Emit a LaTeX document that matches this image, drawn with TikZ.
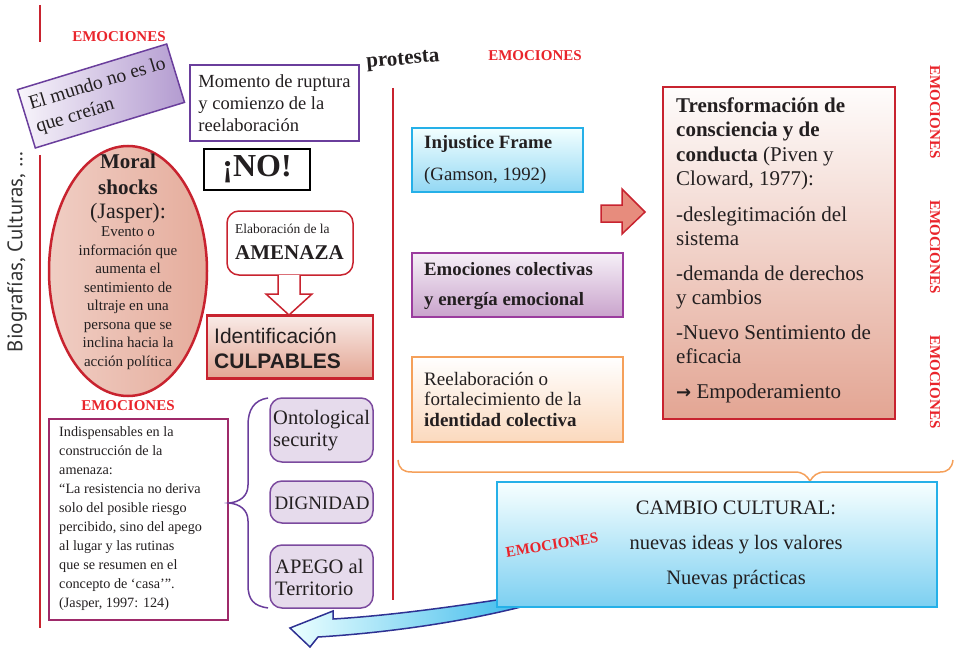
\documentclass[tikz,border=0pt]{standalone}
\usepackage{fontspec}
\setmainfont{Liberation Serif}
\newfontfamily\ptsans{PT Sans}
\newfontfamily\lsans{Liberation Sans}
\newfontfamily\djv{DejaVu Sans}
\usetikzlibrary{shapes.geometric}
\newcommand\myfs[2]{\fontsize{#1}{#2}\selectfont}
\definecolor{redl}{HTML}{C8232F}
\definecolor{emored}{HTML}{E9242B}
\definecolor{purp}{HTML}{6A3E9C}
\definecolor{magp}{HTML}{9E2A6A}
\definecolor{lila}{HTML}{E6DBEC}
\definecolor{lilab}{HTML}{7B4A9E}
\definecolor{mundoR}{HTML}{B39BD0}
\definecolor{mundoL}{HTML}{F8F5FB}
\definecolor{ecolb}{HTML}{9B3C9E}
\definecolor{ecolT}{HTML}{F6F0F7}
\definecolor{ecolB}{HTML}{C9A3CC}
\definecolor{cyanb}{HTML}{25B0E8}
\definecolor{orab}{HTML}{F5A05A}
\definecolor{salm}{HTML}{E3A593}
\definecolor{txt}{HTML}{231F20}
\definecolor{navy}{HTML}{2E3192}
\tikzset{
  emo/.style={text=emored, font=\myfs{15}{18}\bfseries, inner sep=0pt},
  redrule/.style={draw=redl, line width=2pt},
  lilabox/.style={draw=lilab, fill=lila, line width=1.5pt, rounded corners=12pt, inner sep=0pt},
  plain/.style={inner sep=0pt, text=txt},
}
\begin{document}
\begin{tikzpicture}[x=1pt,y=-1pt]
\useasboundingbox (0,0) rectangle (956,650);

% red rules
\draw[redrule] (40,5) -- (40,42);
\draw[redrule] (40,155) -- (40,628);
\draw[redrule] (393,88) -- (393,600);

% EMOCIONES labels
\node[emo] (emoA) at (119,37) {EMOCIONES};
\node[emo] (emoB) at (535,56) {EMOCIONES};
\node[emo] (emoC) at (128,406) {EMOCIONES};
\node[emo, rotate=-90] (emoD) at (935,112) {EMOCIONES};
\node[emo, rotate=-90] (emoE) at (935,247) {EMOCIONES};
\node[emo, rotate=-90] (emoF) at (935,382) {EMOCIONES};

% El mundo
\node[rotate=17, draw=purp, line width=1.5pt, left color=mundoL, right color=mundoR,
      minimum width=156pt, minimum height=61pt, align=left, inner sep=0pt,
      font=\myfs{19.5}{24}, text=txt] (mundo) at (101,96) {El mundo no es lo\\que creían};

% Momento
\node[draw=purp, line width=1.5pt, minimum width=169pt, minimum height=76pt,
      align=left, inner sep=0pt, font=\myfs{18.5}{22}, text=txt] (momento) at (274.5,103)
      {Momento de ruptura\\y comienzo de la\\reelaboración};

% protesta
\node[plain, rotate=5, font=\myfs{21}{24}\bfseries] (prot) at (403,61) {protesta};

% Biografias
\node[plain, rotate=90, font=\ptsans\myfs{21}{24}, text=black!80] (bio) at (17,252) {Biografías, Culturas, …};

% Moral shocks ellipse
\node[ellipse, draw=redl, line width=2.5pt, left color=salm!55!white, middle color=salm!10!white, right color=salm!92!white,
      minimum width=158pt, minimum height=250pt, inner sep=0pt] (moral) at (128,271) {};
\node[plain, align=center, font=\myfs{21}{26}\bfseries] (moralA) at (128,174) {Moral\\shocks};
\node[plain, font=\myfs{22}{24}] (moralB) at (128,213) {(Jasper):};
\node[plain, align=center, font=\myfs{15}{18.5}] (moralC) at (128,298)
  {Evento o\\información que\\aumenta el\\sentimiento de\\ultraje en una\\persona que se\\inclina hacia la\\acción política};

% NO
\node[draw=black, line width=2pt, minimum width=106pt, minimum height=41pt, inner sep=0pt,
      font=\myfs{32}{34}\bfseries, text=txt] (no) at (257,169.5) {¡NO!};

% Amenaza
\node[draw=redl, line width=1.5pt, rounded corners=12pt, minimum width=126pt, minimum height=64pt, inner sep=0pt, fill=white]
      (amenbox) at (290,243) {};
\node[plain, anchor=west, font=\myfs{13.5}{16}] (amenA) at (235,229) {Elaboración de la};
\node[plain, anchor=west, font=\myfs{21}{24}\bfseries] (amenB) at (235,253) {AMENAZA};

% hollow arrow
\draw[draw=redl, line width=1.5pt, fill=white, line join=miter]
  (278,275) -- (278,294) -- (266,294) -- (289,315) -- (312,294) -- (300,294) -- (300,275);

% Culpables
\node[draw=redl, line width=2.5pt, top color=salm!22!white, bottom color=salm, minimum width=166pt, minimum height=63pt, inner sep=0pt]
      (culp) at (290,347) {};
\node[plain, anchor=west, align=left, font=\lsans\myfs{21}{25}] (culpt) at (214,348) {Identificación\\\textbf{CULPABLES}};

% Indispensables box
\node[draw=magp, line width=1.5pt, minimum width=179pt, minimum height=201pt, inner sep=0pt] (indis) at (138.5,519.5) {};
\node[plain, anchor=west, align=left, font=\myfs{14.2}{19}] (indist) at (59,519) {Indispensables en la\\construcción de la\\amenaza:\\“La resistencia no deriva\\solo del posible riesgo\\percibido, sino del apego\\al lugar y las rutinas\\que se resumen en el\\concepto de ‘casa’”.\\(Jasper, 1997: 124)};

% brace
\draw[draw=purp, line width=1.5pt] (268,398) .. controls (254,400) and (248,410) .. (248,425) -- (248,485)
  .. controls (248,496) and (240,502) .. (229,503) .. controls (240,504) and (248,510) .. (248,521) -- (248,585)
  .. controls (248,600) and (254,606) .. (268,608);

% lila boxes
\node[lilabox, minimum width=103pt, minimum height=64pt] (onto) at (321.5,430) {};
\node[plain, anchor=west, align=left, font=\myfs{20.5}{22}] (ontot) at (273,431) {Ontological\\security};
\node[lilabox, minimum width=103pt, minimum height=42pt] (dign) at (321.5,502) {};
\node[plain, font=\myfs{19}{22}] (dignt) at (322,503) {DIGNIDAD};
\node[lilabox, minimum width=103pt, minimum height=63pt] (apego) at (321.5,576.5) {};
\node[plain, anchor=west, align=left, font=\myfs{20.5}{22}] (apegot) at (275,577) {APEGO al\\Territorio};

% Injustice frame
\node[draw=cyanb, line width=1.5pt, top color=white!95!cyan, bottom color=cyanb!50!white, minimum width=171pt, minimum height=64pt, inner sep=0pt]
      (injb) at (497.5,160) {};
\node[plain, anchor=west, font=\myfs{18.8}{22}\bfseries] (injA) at (424,144) {Injustice Frame};
\node[plain, anchor=west, font=\myfs{18.8}{22}] (injB) at (424,176) {(Gamson, 1992)};

% Emociones colectivas
\node[draw=ecolb, line width=1.5pt, top color=ecolT, bottom color=ecolB, minimum width=211pt, minimum height=64pt, inner sep=0pt]
      (ecol) at (517.5,285) {};
\node[plain, anchor=west, font=\myfs{18.8}{22}\bfseries] (ecolA) at (424,269) {Emociones colectivas};
\node[plain, anchor=west, font=\myfs{18.8}{22}\bfseries] (ecolB) at (424,301) {y energía emocional};

% Reelaboracion
\node[draw=orab, line width=1.5pt, top color=white, bottom color=orab!40!white, minimum width=211pt, minimum height=85pt, inner sep=0pt]
      (reel) at (517.5,399.5) {};
\node[plain, anchor=west, align=left, font=\myfs{19}{20.5}] (reelt) at (424,399) {Reelaboración o\\fortalecimiento de la\\\textbf{identidad colectiva}};

% red block arrow
\draw[draw=redl, line width=1.5pt, fill=salm!85!red, line join=miter]
  (601,205) -- (622,205) -- (622,189) -- (645,212) -- (622,234) -- (622,222) -- (601,222) -- cycle;

% Transformacion
\node[draw=redl, line width=2pt, top color=white!97!salm, middle color=salm!85!white, bottom color=salm, minimum width=232pt, minimum height=332pt, inner sep=0pt]
      (trans) at (779,253) {};
\node[plain, anchor=west, align=left, font=\myfs{21}{24.5}] (transt) at (676,250)
  {\textbf{Trensformación de}\\\textbf{consciencia y de}\\\textbf{conducta} (Piven y\\Cloward, 1977):\\[11pt]
   -deslegitimación del\\sistema\\[10pt]-demanda de derechos\\y cambios\\[10pt]-Nuevo Sentimiento de\\eficacia\\[10pt]
   {\djv\bfseries\myfs{18}{24.5}→} Empoderamiento};

% orange brace
\draw[draw=orab, line width=1.5pt] (398,460) .. controls (399,469) and (403,472) .. (412,472) -- (795,472)
  .. controls (803,472) and (807,476) .. (810,481) .. controls (813,476) and (817,472) .. (825,472) -- (940,472)
  .. controls (948,472) and (952,468) .. (953,460);

% blue curved arrow (behind box)
\draw[draw=navy, line width=1.5pt, left color=white!92!cyan, right color=cyanb, line join=miter]
  (560,590) .. controls (480,603) and (400,615) .. (333,619) -- (333,611) -- (290,628) -- (310,647) -- (318,637)
  .. controls (400,632) and (490,618) .. (560,596) -- cycle;

% Cambio cultural
\node[draw=cyanb, line width=1.5pt, top color=white!97!cyan, bottom color=cyanb!60!white, minimum width=440pt, minimum height=125pt, inner sep=0pt]
      (cambio) at (717,544.5) {};
\node[plain, align=center, font=\myfs{20.5}{35}] (cambiot) at (736,545) {CAMBIO CULTURAL:\\nuevas ideas y los valores\\Nuevas prácticas};
\node[emo, rotate=9] (emoG) at (552,545) {EMOCIONES};

\end{tikzpicture}
\end{document}
